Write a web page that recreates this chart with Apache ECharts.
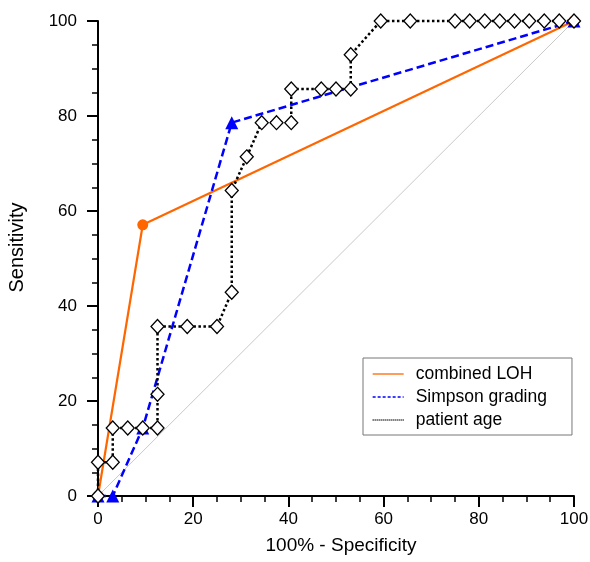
<!DOCTYPE html>
<html>
<head>
<meta charset="utf-8">
<script src="https://cdn.jsdelivr.net/npm/echarts@6/dist/echarts.min.js"></script>
<style>html,body{margin:0;padding:0;background:#fff}#c{width:590px;height:562px}</style>
</head>
<body>
<div id="c"></div>
<script>
// Data
var lohX = [0, 9.4, 100];
var lohY = [0, 57.1, 100];
var simpsonX = [0, 3.1, 9.4, 28.1, 100];
var simpsonY = [0, 0, 14.3, 78.6, 100];
var ageX = [0, 0, 3.1, 3.1, 6.25, 9.4, 12.5, 12.5, 12.5, 18.75, 25, 28.1, 28.1, 31.25, 34.4, 37.5, 40.6, 40.6, 46.9, 50, 53.1, 53.1, 59.4, 65.6, 75, 78.1, 81.25, 84.4, 87.5, 90.6, 93.75, 96.9, 100];
var ageY = [0, 7.1, 7.1, 14.3, 14.3, 14.3, 14.3, 21.4, 35.7, 35.7, 35.7, 42.9, 64.3, 71.4, 78.6, 78.6, 78.6, 85.7, 85.7, 85.7, 85.7, 92.9, 100, 100, 100, 100, 100, 100, 100, 100, 100, 100, 100];
var diagX = [0, 100];
var diagY = [0, 100];
var seriesNames = ['combined LOH', 'Simpson grading', 'patient age'];
var xTitle = '100% - Specificity';
var yTitle = 'Sensitivity';

function pairs(xs, ys) { return xs.map(function (x, i) { return [x, ys[i]]; }); }

var FONT = 'Liberation Sans, Arial, sans-serif';
var ORANGE = '#ff6600', BLUE = '#0000ff', BLACK = '#000000';
var chart = echarts.init(document.getElementById('c'), null, { renderer: 'canvas' });

function axisCommon() {
  return {
    type: 'value', min: 0, max: 100, interval: 20,
    splitLine: { show: false },
    axisLine: { show: true, onZero: false, lineStyle: { color: '#000', width: 2 } },
    axisTick: { show: true, inside: false, length: 11, lineStyle: { color: '#000', width: 2 } },
    minorTick: { show: true, splitNumber: 4, length: 6, lineStyle: { color: '#000', width: 1.5 } },
    axisLabel: { color: '#000', fontSize: 17, fontFamily: FONT },
    nameLocation: 'middle',
    nameTextStyle: { color: '#000', fontSize: 19, fontFamily: FONT }
  };
}

var xAxis = axisCommon();
xAxis.name = xTitle;
xAxis.nameGap = 40;
xAxis.axisLabel.margin = 15;
xAxis.nameTextStyle.padding = [0, 0, 0, 10];

var yAxis = axisCommon();
yAxis.name = yTitle;
yAxis.nameGap = 71;
yAxis.axisLabel.margin = 21;
yAxis.nameTextStyle.fontSize = 20;
yAxis.nameTextStyle.padding = [0, 0, 0, 22];

chart.setOption({
  animation: false,
  backgroundColor: '#fff',
  grid: { left: 98, right: 16, top: 21, bottom: 66, containLabel: false, outerBoundsMode: 'none' },
  xAxis: xAxis,
  yAxis: yAxis,
  legend: {
    data: [
      { name: seriesNames[0], lineStyle: { color: ORANGE, width: 1.3, type: 'solid' } },
      { name: seriesNames[1], lineStyle: { color: BLUE, width: 1.3, type: [3, 2] } },
      { name: seriesNames[2], lineStyle: { color: BLACK, width: 1.3, type: [1, 1] } }
    ],
    orient: 'vertical',
    left: 363, top: 358,
    padding: [7, 25, 6, 9],
    itemWidth: 31, itemHeight: 14, itemGap: 5,
    itemStyle: { opacity: 0 },
    borderColor: '#777', borderWidth: 1,
    backgroundColor: '#fff',
    textStyle: { color: '#000', fontSize: 17.5, fontFamily: FONT, padding: [0, 0, 0, 7], lineHeight: 17 }
  },
  series: [
    {
      name: 'diag', type: 'line', data: pairs(diagX, diagY), symbol: 'none', silent: true,
      lineStyle: { color: '#c8c8c8', width: 1 }, z: 1
    },
    {
      name: seriesNames[0], type: 'line', data: pairs(lohX, lohY), clip: false,
      symbol: 'circle', symbolSize: 11, color: ORANGE,
      itemStyle: { color: ORANGE },
      lineStyle: { color: ORANGE, width: 2.2 }, z: 2
    },
    {
      name: seriesNames[1], type: 'line', data: pairs(simpsonX, simpsonY), clip: false,
      symbol: 'triangle', symbolSize: [13, 13], color: BLUE,
      itemStyle: { color: BLUE },
      lineStyle: { color: BLUE, width: 2.5, type: [8, 4] }, z: 3
    },
    {
      name: seriesNames[2], type: 'line', data: pairs(ageX, ageY), clip: false,
      symbol: 'diamond', symbolSize: [13, 14], color: BLACK,
      itemStyle: { color: '#fff', borderColor: BLACK, borderWidth: 1.3 },
      lineStyle: { color: BLACK, width: 2.5, type: [2.5, 2.5] }, z: 4
    }
  ]
});
</script>
</body>
</html>
